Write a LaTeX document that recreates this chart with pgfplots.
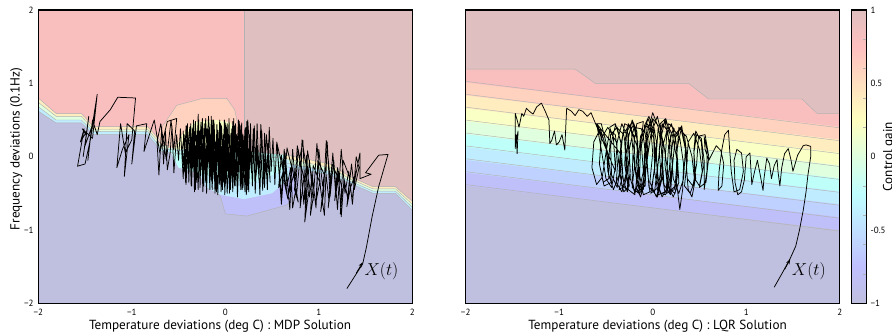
\documentclass[border=0pt]{standalone}
\usepackage{pgfplots}
\pgfplotsset{compat=1.18}
\usepackage{fontspec}
\setmainfont{PT Sans}
\usetikzlibrary{arrows.meta}
\definecolor{Cbot}{RGB}{191,191,223}
\definecolor{Ca}{RGB}{191,191,249}
\definecolor{Cb}{RGB}{191,210,255}
\definecolor{Cc}{RGB}{191,236,255}
\definecolor{Cd}{RGB}{191,255,249}
\definecolor{Ce}{RGB}{223,255,223}
\definecolor{Cf}{RGB}{249,255,197}
\definecolor{Cg}{RGB}{255,236,191}
\definecolor{Ch}{RGB}{255,210,191}
\definecolor{Ci}{RGB}{249,191,191}
\definecolor{Ctop}{RGB}{223,191,191}
\definecolor{Cline}{RGB}{178,178,178}
\newcommand{\tickfont}{\fontsize{9pt}{10pt}\selectfont}
\newcommand{\labfont}{\fontsize{13.2pt}{15pt}\selectfont}
\pgfplotsset{colormap={pjet}{rgb255(0cm)=(191,191,223) rgb255(1cm)=(191,191,255) rgb255(3cm)=(191,255,255) rgb255(5cm)=(255,255,191) rgb255(7cm)=(255,191,191) rgb255(8cm)=(223,191,191)}}
\pgfplotsset{
 panel/.style={scale only axis, width=374pt, height=293.3pt, anchor=south west,
  xmin=-2,xmax=2,ymin=-2,ymax=2,
  xtick={-2,-1,0,1,2}, xticklabels={−2,−1,0,1,2},
  major tick length=0pt, axis on top,
  axis line style={line width=1.1pt},
  axis background/.style={fill=Cbot},
  ticklabel style={font=\tickfont, inner sep=0pt},
  xticklabel style={yshift=-5.5pt},
  yticklabel style={xshift=-4.5pt},
  xlabel style={font=\labfont, inner sep=0pt, anchor=north, yshift=-16.5pt},
  ylabel style={font=\labfont, inner sep=0pt},
 },
 cl/.style={draw=Cline, line width=0.45pt},
 traj/.style={black, line width=0.75pt, line join=round},
}
\begin{document}
\begin{tikzpicture}
% ================= LEFT: MDP =================
\begin{axis}[panel, at={(38.3pt,31.7pt)},
  ytick={-2,-1,0,1,2}, yticklabels={−2,−1,0,1,2},
  xlabel={Temperature deviations (deg C) : MDP Solution},
  xlabel style={at={(axis description cs:0.486,0)}},
  ylabel={Frequency deviations (0.1Hz)},
  ylabel style={at={(axis description cs:-0.0588,0.526)}, anchor=center}]
\addplot[fill=Cg, draw=none] coordinates {(-2.1,0.80)(-2,0.80)(-1.81,0.59)(-1.54,0.59)(-1.41,0.41)(-0.83,0.41)(-0.68,0.20)(0.66,0.02)(1.12,-0.10)(1.33,-0.27)(1.58,-0.41)(1.82,-0.41)(2,-0.61)(2.1,-0.61)(2.1,-2.1)(-2.1,-2.1)};
\addplot[fill=Ce, draw=none] coordinates {(-2.1,0.74)(-2,0.74)(-1.81,0.55)(-1.54,0.55)(-1.41,0.37)(-0.83,0.37)(-0.68,0.16)(0.66,-0.03)(1.12,-0.15)(1.33,-0.30)(1.58,-0.44)(1.82,-0.44)(2,-0.65)(2.1,-0.65)(2.1,-2.1)(-2.1,-2.1)};
\addplot[fill=Cc, draw=none] coordinates {(-2.1,0.68)(-2,0.68)(-1.81,0.50)(-1.54,0.50)(-1.41,0.34)(-0.83,0.34)(-0.68,0.11)(0.66,-0.09)(1.12,-0.20)(1.33,-0.33)(1.58,-0.47)(1.82,-0.47)(2,-0.69)(2.1,-0.69)(2.1,-2.1)(-2.1,-2.1)};
\addplot[fill=Cbot, draw=none] coordinates {(-2.1,0.62)(-2,0.62)(-1.81,0.46)(-1.54,0.46)(-1.41,0.30)(-0.83,0.30)(-0.68,0.07)(0.66,-0.14)(1.12,-0.25)(1.33,-0.36)(1.58,-0.50)(1.82,-0.50)(2,-0.73)(2.1,-0.73)(2.1,-2.1)(-2.1,-2.1)};
\addplot[fill=Ctop, draw=none] coordinates {(-2.1,2.1)(2.1,2.1)(2.1,-0.61)(2,-0.61)(1.82,-0.41)(1.58,-0.41)(1.33,-0.27)(1.12,-0.10)(0.66,0.02)(-0.68,0.20)(-0.83,0.41)(-1.41,0.41)(-1.54,0.59)(-1.81,0.59)(-2,0.80)(-2.1,0.80)};
\addplot[fill=Ci, draw=none] coordinates {(-2.1,2.1)(0.2,2.1)(0.2,0.082)(-0.68,0.20)(-0.83,0.41)(-1.41,0.41)(-1.54,0.59)(-1.81,0.59)(-2,0.80)(-2.1,0.80)};
\addplot[fill=Ca, draw=none] coordinates {(-0.30,-0.10)(-0.15,-0.40)(-0.05,-0.55)(0.00,-0.78)(0.23,-0.81)(0.66,-0.66)(0.75,-0.50)(0.78,-0.30)(0.66,-0.10)(0.00,-0.10)};
\addplot[fill=Cc, draw=none] coordinates {(-0.30,-0.20)(-0.20,-0.42)(-0.05,-0.52)(0.20,-0.58)(0.50,-0.50)(0.68,-0.30)(0.68,-0.05)(-0.30,0.00)};
\addplot[fill=Cd, draw=none] coordinates {(-0.60,0.10)(-0.50,-0.15)(-0.20,-0.25)(0.30,-0.35)(0.60,-0.20)(0.66,0.02)(0.20,0.08)(-0.60,0.15)};
\addplot[fill=Ch, draw=none] coordinates {(-0.72,0.20)(-0.70,0.36)(-0.52,0.70)(-0.24,0.795)(0.015,0.795)(0.10,0.64)(0.13,0.46)(0.16,0.20)(0.10,0.05)(-0.60,0.12)};
\addplot[fill=Cf, draw=none] coordinates {(-0.55,0.10)(-0.45,0.32)(-0.33,0.47)(-0.10,0.50)(0.06,0.46)(0.12,0.30)(0.12,0.10)};
\addplot[cl] coordinates {(-2,0.80)(-1.81,0.59)(-1.54,0.59)(-1.41,0.41)(-0.83,0.41)(-0.68,0.20)(0.66,0.02)(1.12,-0.10)(1.33,-0.27)(1.58,-0.41)(1.82,-0.41)(2,-0.61)};
\addplot[cl] coordinates {(-2,0.74)(-1.81,0.55)(-1.54,0.55)(-1.41,0.37)(-0.83,0.37)(-0.68,0.16)(0.66,-0.03)(1.12,-0.15)(1.33,-0.30)(1.58,-0.44)(1.82,-0.44)(2,-0.65)};
\addplot[cl] coordinates {(-2,0.68)(-1.81,0.50)(-1.54,0.50)(-1.41,0.34)(-0.83,0.34)(-0.68,0.11)(0.66,-0.09)(1.12,-0.20)(1.33,-0.33)(1.58,-0.47)(1.82,-0.47)(2,-0.69)};
\addplot[cl] coordinates {(-2,0.62)(-1.81,0.46)(-1.54,0.46)(-1.41,0.30)(-0.83,0.30)(-0.68,0.07)(0.66,-0.14)(1.12,-0.25)(1.33,-0.36)(1.58,-0.50)(1.82,-0.50)(2,-0.73)};
\addplot[cl] coordinates {(0.2,2)(0.2,0.082)};
\addplot[cl] coordinates {(-0.70,0.36)(-0.52,0.70)(-0.24,0.795)(0.015,0.795)(0.10,0.64)(0.13,0.46)};
\addplot[cl] coordinates {(-0.15,-0.40)(-0.05,-0.55)(0.00,-0.78)(0.23,-0.81)(0.66,-0.66)(0.75,-0.50)};
\addplot[traj] coordinates {
(1.30,-1.80)(1.47,-1.46)(1.51,-1.23)(1.57,-0.82)(1.64,-0.41)(1.74,0.03)(1.64,0.02)(1.50,-0.22)(1.56,-0.24)(1.44,-0.30)
(1.44,0.05)(1.38,-0.35)(1.36,-0.55)(1.40,-0.20)(1.34,-0.42)(1.30,-0.68)(1.33,-0.28)(1.26,-0.05)(1.23,-0.78)(1.25,-0.45)(1.20,-0.15)(1.17,-0.60)(1.21,-0.30)(1.14,-0.10)(1.10,-0.70)(1.13,-0.40)(1.08,0.22)(1.05,-0.52)(1.02,-0.75)(1.06,-0.25)(0.99,-0.05)(0.97,-0.62)(1.01,-0.35)(0.94,-0.12)(0.91,-0.80)(0.95,-0.48)(0.88,0.08)(0.86,-0.55)(0.85,-0.89)(0.90,-0.40)(0.82,0.23)(0.80,-0.70)(0.84,-0.30)(0.77,0.15)(0.74,-0.45)(0.78,-0.62)(0.71,-0.10)(0.68,-0.50)(0.73,-0.25)(0.66,0.12)(0.63,-0.35)(0.67,-0.58)(0.60,0.02)(0.57,-0.42)(0.62,-0.20)(0.55,0.20)
(0.60,-0.65)(0.64,0.05)(0.69,-0.72)(0.72,0.10)(0.76,-0.55)(0.80,0.00)(0.83,0.22)(0.86,-0.70)(0.90,-0.05)(0.94,-0.60)(0.98,0.18)(1.02,-0.45)(1.06,-0.80)(1.09,0.20)(1.12,-0.55)(1.16,-0.05)(1.20,-0.72)(1.24,0.10)(1.28,-0.50)(1.32,-0.20)(1.36,-0.65)(1.40,0.00)(1.43,-0.15)
(1.38,-0.45)(1.35,-0.10)(1.31,-0.58)(1.27,-0.30)(1.24,-0.82)(1.21,-0.20)(1.18,-0.50)(1.15,0.05)(1.11,-0.62)(1.07,-0.15)(1.04,-0.40)(1.00,0.10)(0.97,-0.70)(0.93,-0.25)(0.90,-0.55)(0.87,0.02)(0.84,-0.65)(0.81,-0.18)(0.78,0.10)(0.75,-0.48)(0.72,-0.70)(0.70,-0.15)(0.66,-0.40)(0.63,0.10)(0.60,-0.55)(0.57,-0.10)(0.55,0.20)
(0.53,-0.38)(0.51,0.25)(0.49,-0.20)(0.47,0.40)(0.45,-0.45)(0.43,0.10)(0.41,-0.30)(0.39,0.35)(0.37,-0.52)(0.35,0.05)(0.33,-0.25)(0.31,0.42)(0.29,-0.40)(0.27,0.20)(0.25,-0.15)(0.23,0.48)(0.21,-0.48)(0.19,0.30)(0.17,-0.35)(0.15,0.15)(0.13,-0.55)(0.11,0.45)(0.09,-0.10)(0.07,0.38)(0.05,-0.42)(0.03,0.22)(0.01,-0.30)(-0.01,0.50)(-0.03,-0.45)(-0.05,0.12)(-0.07,-0.20)(-0.09,0.44)(-0.11,-0.50)(-0.13,0.28)(-0.15,-0.32)(-0.17,0.40)(-0.19,-0.12)(-0.21,0.52)(-0.23,-0.40)(-0.25,0.18)(-0.27,-0.28)(-0.29,0.58)(-0.31,-0.35)(-0.33,0.30)(-0.35,-0.15)(-0.37,0.45)(-0.39,-0.30)(-0.41,0.25)(-0.43,-0.22)(-0.45,0.35)
(-0.42,-0.38)(-0.40,0.10)(-0.38,0.40)(-0.36,-0.25)(-0.34,0.22)(-0.32,-0.45)(-0.30,0.35)(-0.28,-0.05)(-0.26,0.47)(-0.24,-0.35)(-0.22,0.08)(-0.20,-0.48)(-0.18,0.33)(-0.16,-0.20)(-0.14,0.50)(-0.12,-0.30)(-0.10,0.20)(-0.08,-0.52)(-0.06,0.40)(-0.04,-0.08)(-0.02,0.30)(0.00,-0.40)(0.02,0.45)(0.04,-0.22)(0.06,0.15)(0.08,-0.48)(0.10,0.36)(0.12,-0.15)(0.14,0.50)(0.16,-0.40)(0.18,0.05)(0.20,-0.28)(0.22,0.40)(0.24,-0.45)(0.26,0.30)(0.28,-0.10)(0.30,0.25)(0.32,-0.38)(0.34,0.45)(0.36,-0.20)(0.38,0.12)(0.40,-0.46)(0.42,0.32)(0.44,-0.25)(0.46,0.18)(0.48,-0.35)
(0.44,0.30)(0.42,-0.42)(0.40,0.05)(0.38,0.44)(0.36,-0.32)(0.34,0.15)(0.32,-0.50)(0.30,0.38)(0.28,-0.22)(0.26,0.10)(0.24,0.50)(0.22,-0.35)(0.20,0.22)(0.18,-0.45)(0.16,0.42)(0.14,-0.05)(0.12,0.30)(0.10,-0.40)(0.08,0.48)(0.06,-0.30)(0.04,0.05)(0.02,-0.50)(0.00,0.35)(-0.02,-0.18)(-0.04,0.42)(-0.06,-0.38)(-0.08,0.20)(-0.10,-0.10)(-0.12,0.46)(-0.14,-0.45)(-0.16,0.15)(-0.18,0.55)(-0.20,-0.25)(-0.22,0.30)(-0.24,-0.48)(-0.26,0.40)(-0.28,-0.12)(-0.30,0.20)(-0.32,-0.30)(-0.34,0.50)(-0.36,-0.40)(-0.38,0.15)(-0.40,-0.10)(-0.42,0.42)(-0.44,-0.20)(-0.46,0.10)
(-0.44,0.30)(-0.425,-0.35)(-0.41,0.42)(-0.395,-0.10)(-0.38,0.22)(-0.365,-0.40)(-0.35,0.38)(-0.335,-0.25)(-0.32,0.48)(-0.305,-0.05)(-0.29,-0.45)(-0.275,0.35)(-0.26,-0.18)(-0.245,0.52)(-0.23,-0.30)(-0.215,0.10)(-0.20,-0.50)(-0.185,0.42)(-0.17,-0.15)(-0.155,0.30)(-0.14,-0.42)(-0.125,0.50)(-0.11,-0.05)(-0.095,-0.48)(-0.08,0.36)(-0.065,-0.28)(-0.05,0.45)(-0.035,-0.40)(-0.02,0.15)(-0.005,-0.52)(0.01,0.40)(0.025,-0.20)(0.04,0.52)(0.055,-0.45)(0.07,0.25)(0.085,-0.35)(0.10,0.42)(0.115,-0.10)(0.13,-0.50)(0.145,0.35)(0.16,-0.28)(0.175,0.46)(0.19,-0.42)(0.205,0.18)(0.22,-0.20)(0.235,0.44)(0.25,-0.48)(0.265,0.30)(0.28,-0.15)
(0.27,0.45)(0.255,-0.30)(0.24,0.10)(0.225,-0.52)(0.21,0.38)(0.195,-0.05)(0.18,0.28)(0.165,-0.45)(0.15,0.48)(0.135,-0.22)(0.12,0.05)(0.105,-0.40)(0.09,0.52)(0.075,-0.15)(0.06,0.32)(0.045,-0.50)(0.03,0.28)(0.015,-0.08)(0.00,0.46)(-0.015,-0.35)(-0.03,0.20)(-0.045,-0.48)(-0.06,0.50)(-0.075,-0.12)(-0.09,0.30)(-0.105,-0.38)(-0.12,0.40)(-0.135,-0.22)(-0.15,0.55)(-0.165,-0.45)(-0.18,0.08)(-0.195,0.38)(-0.21,-0.35)(-0.225,0.45)(-0.24,-0.12)(-0.255,0.28)(-0.27,-0.42)(-0.285,0.50)(-0.30,-0.20)(-0.315,0.15)(-0.33,-0.48)(-0.345,0.40)(-0.36,-0.05)(-0.375,0.32)(-0.39,-0.35)(-0.405,0.45)(-0.42,-0.15)(-0.435,0.25)(-0.45,-0.30)
(-0.48,0.38)(-0.50,-0.05)(-0.52,0.30)(-0.55,-0.22)(-0.57,0.42)(-0.59,0.05)(-0.62,-0.18)(-0.64,0.35)(-0.66,-0.10)(-0.68,0.40)(-0.71,-0.25)(-0.73,0.20)(-0.69,0.45)(-0.63,-0.05)(-0.58,0.50)(-0.55,0.10)(-0.52,0.52)(-0.62,0.48)(-0.70,0.05)(-0.76,0.50)(-0.87,0.07)(-0.84,0.45)
(-0.95,0.42)(-1.00,-0.10)(-0.97,0.35)(-1.05,0.45)(-1.08,-0.27)(-1.03,0.30)(-1.10,0.10)(-1.16,-0.15)(-1.12,0.45)(-1.07,0.05)(-1.00,0.23)(-0.96,0.80)(-1.15,0.81)(-1.23,0.64)(-1.34,0.48)(-1.37,0.30)
(-1.42,0.50)(-1.47,-0.05)(-1.43,0.40)(-1.50,0.15)(-1.46,0.55)(-1.52,0.00)(-1.48,0.35)(-1.55,0.20)(-1.51,0.38)(-1.58,-0.13)(-1.50,-0.10)(-1.44,0.25)(-1.40,0.58)(-1.45,0.20)(-1.37,0.85)(-1.42,0.25)(-1.53,0.38)(-1.49,0.30)
};
\addplot[black, line width=0.75pt, -{Stealth[length=5pt,width=3.6pt]}] coordinates {(1.40,-1.59)(1.47,-1.44)};
\node at (axis cs:1.67,-1.56) {\fontsize{16pt}{18pt}\selectfont $X(t)$};
\end{axis}
% ================= RIGHT: LQR =================
\begin{axis}[panel, at={(465.7pt,31.7pt)}, ytick=\empty,
  xlabel={Temperature deviations (deg C) : LQR Solution},
  xlabel style={at={(axis description cs:0.513,0)}},
  colorbar, colormap name=pjet, point meta min=-1, point meta max=1,
  colorbar style={at={(1.0305,1)}, anchor=north west, scale only axis, width=15.3pt, height=293.3pt,
    ytick={-1,-0.5,0,0.5,1}, yticklabels={−1,-0.5,0,0.5,1},
    minor ytick={-0.8,-0.6,-0.4,-0.2,0.2,0.4,0.6,0.8},
    ytick pos=right, tick align=inside, major tick length=0pt, minor tick length=3pt,
    minor tick style={draw=Cline, line width=0.5pt},
    yticklabel style={font=\tickfont, inner sep=0pt, xshift=4pt},
    axis line style={line width=1.1pt}}]
\addplot[fill=Ca, draw=none] coordinates {(-2.1,-0.381)(2.1,-1.015)(2.1,2.1)(-2.1,2.1)};
\addplot[fill=Cb, draw=none] coordinates {(-2.1,-0.205)(2.1,-0.839)(2.1,2.1)(-2.1,2.1)};
\addplot[fill=Cc, draw=none] coordinates {(-2.1,-0.029)(2.1,-0.663)(2.1,2.1)(-2.1,2.1)};
\addplot[fill=Cd, draw=none] coordinates {(-2.1,0.147)(2.1,-0.487)(2.1,2.1)(-2.1,2.1)};
\addplot[fill=Ce, draw=none] coordinates {(-2.1,0.323)(2.1,-0.311)(2.1,2.1)(-2.1,2.1)};
\addplot[fill=Cf, draw=none] coordinates {(-2.1,0.499)(2.1,-0.135)(2.1,2.1)(-2.1,2.1)};
\addplot[fill=Cg, draw=none] coordinates {(-2.1,0.675)(2.1,0.041)(2.1,2.1)(-2.1,2.1)};
\addplot[fill=Ch, draw=none] coordinates {(-2.1,0.851)(2.1,0.217)(2.1,2.1)(-2.1,2.1)};
\addplot[fill=Ci, draw=none] coordinates {(-2.1,1.027)(2.1,0.393)(2.1,2.1)(-2.1,2.1)};
\addplot[fill=Ctop, draw=none] coordinates {(-2.1,1.195)(-0.83,1.195)(-0.615,1.0)(0.384,1.0)(0.598,0.786)(1.597,0.786)(1.757,0.591)(2.1,0.591)(2.1,2.1)(-2.1,2.1)};
\addplot[cl] coordinates {(-2,-0.381)(2,-1.015)};
\addplot[cl] coordinates {(-2,-0.205)(2,-0.839)};
\addplot[cl] coordinates {(-2,-0.029)(2,-0.663)};
\addplot[cl] coordinates {(-2,0.147)(2,-0.487)};
\addplot[cl] coordinates {(-2,0.323)(2,-0.311)};
\addplot[cl] coordinates {(-2,0.499)(2,-0.135)};
\addplot[cl] coordinates {(-2,0.675)(2,0.041)};
\addplot[cl] coordinates {(-2,0.851)(2,0.217)};
\addplot[cl] coordinates {(-2,1.027)(2,0.393)};
\addplot[cl] coordinates {(-2,1.195)(-0.83,1.195)(-0.615,1.0)(0.384,1.0)(0.598,0.786)(1.597,0.786)(1.757,0.591)(2,0.591)};
\addplot[traj] coordinates {
(1.30,-1.78)(1.38,-1.60)(1.47,-1.39)(1.53,-1.22)(1.57,-1.00)(1.61,-0.73)(1.64,-0.48)(1.66,-0.25)(1.69,0.00)(1.69,0.14)(1.64,0.16)(1.61,0.15)(1.55,0.02)(1.50,-0.20)(1.48,-0.05)(1.45,0.11)(1.41,0.04)(1.38,-0.15)(1.36,-0.40)(1.34,-0.20)(1.33,-0.04)(1.30,-0.12)(1.27,-0.30)(1.25,-0.10)(1.22,-0.02)(1.19,-0.30)(1.18,-0.46)(1.15,-0.25)(1.12,-0.05)(1.09,-0.20)(1.06,-0.38)(1.04,0.05)(1.00,0.00)(0.98,-0.32)(0.95,-0.48)(0.91,-0.52)(0.88,-0.35)(0.87,-0.05)(0.90,0.10)(0.95,0.05)(0.97,-0.20)(0.93,-0.45)(0.87,-0.48)(0.84,-0.20)(0.82,0.15)(0.81,0.36)(0.77,0.30)(0.74,0.10)(0.71,-0.20)(0.70,-0.46)(0.74,-0.40)(0.76,-0.10)(0.73,0.08)(0.68,0.15)(0.64,0.05)(0.60,-0.05)(0.56,0.10)(0.55,0.27)(0.58,0.10)(0.58,-0.20)(0.55,-0.45)
(0.55,-0.05)(0.52,0.25)(0.47,0.30)(0.44,0.05)(0.45,-0.30)(0.50,-0.40)(0.53,-0.20)(0.50,0.10)(0.44,0.32)(0.38,0.20)(0.36,-0.15)(0.38,-0.45)(0.42,-0.55)(0.45,-0.35)(0.42,0.00)(0.36,0.28)(0.30,0.35)(0.26,0.10)(0.25,-0.30)(0.29,-0.72)(0.32,-0.45)(0.33,-0.10)(0.29,0.25)(0.22,0.38)(0.17,0.15)(0.15,-0.25)(0.18,-0.48)(0.24,-0.40)(0.26,-0.05)(0.21,0.30)(0.13,0.50)(0.08,0.20)(0.05,-0.20)(0.08,-0.50)(0.14,-0.52)(0.16,-0.20)(0.12,0.15)(0.05,0.55)(-0.02,0.30)(-0.06,-0.05)(-0.04,-0.42)(0.02,-0.48)(0.05,-0.15)(0.01,0.25)(-0.06,0.45)(-0.13,0.28)(-0.16,-0.10)(-0.14,-0.45)(-0.08,-0.40)(-0.07,0.05)(-0.12,0.38)(-0.20,0.40)(-0.25,0.10)(-0.24,-0.30)(-0.19,-0.50)(-0.14,-0.30)(-0.17,0.15)(-0.25,0.43)(-0.32,0.30)(-0.35,-0.05)(-0.33,-0.40)(-0.27,-0.45)(-0.26,-0.10)(-0.31,0.30)(-0.40,0.42)(-0.45,0.15)(-0.44,-0.25)(-0.38,-0.42)(-0.35,-0.20)(-0.39,0.20)(-0.48,0.40)(-0.55,0.25)(-0.57,-0.10)(-0.53,-0.35)(-0.47,-0.30)(-0.48,0.05)(-0.56,0.38)(-0.63,0.20)(-0.65,-0.15)(-0.60,-0.38)(-0.54,-0.28)
(-0.50,0.05)(-0.46,0.35)(-0.40,0.30)(-0.37,0.00)(-0.39,-0.35)(-0.33,-0.48)(-0.28,-0.20)(-0.30,0.20)(-0.26,0.45)(-0.20,0.28)(-0.19,-0.08)(-0.22,-0.42)(-0.15,-0.50)(-0.10,-0.20)(-0.12,0.15)(-0.08,0.42)(-0.02,0.38)(0.00,0.05)(-0.03,-0.35)(0.04,-0.55)(0.09,-0.30)(0.07,0.10)(0.10,0.45)(0.16,0.35)(0.19,0.00)(0.16,-0.38)(0.22,-0.55)(0.28,-0.35)(0.26,0.05)(0.28,0.40)(0.34,0.30)(0.37,-0.05)(0.34,-0.40)(0.40,-0.50)(0.46,-0.30)(0.44,0.08)(0.46,0.35)(0.52,0.20)(0.54,-0.15)(0.50,-0.42)(0.57,-0.35)(0.60,0.00)
(0.56,0.30)(0.49,0.28)(0.47,-0.10)(0.43,-0.40)(0.37,-0.30)(0.35,0.10)(0.31,0.42)(0.24,0.25)(0.21,-0.15)(0.19,-0.52)(0.12,-0.38)(0.10,0.05)(0.06,0.40)(0.00,0.60)(-0.05,0.35)(-0.09,-0.05)(-0.10,-0.45)(-0.17,-0.35)(-0.21,0.05)(-0.23,0.40)(-0.30,0.45)(-0.34,0.15)(-0.36,-0.25)(-0.42,-0.45)(-0.48,-0.20)(-0.50,0.20)(-0.55,0.45)(-0.60,0.45)
(-0.55,0.10)(-0.50,-0.30)(-0.44,-0.42)(-0.40,-0.15)(-0.42,0.25)(-0.46,0.40)(-0.40,0.45)(-0.34,0.20)(-0.32,-0.25)(-0.36,-0.45)(-0.30,-0.40)(-0.25,-0.05)(-0.27,0.35)(-0.22,0.48)(-0.17,0.25)(-0.15,-0.20)(-0.19,-0.48)(-0.12,-0.45)(-0.07,-0.10)(-0.10,0.30)(-0.05,0.52)(0.01,0.30)(0.02,-0.15)(-0.02,-0.50)(0.06,-0.42)(0.10,-0.05)(0.08,0.35)(0.13,0.48)(0.18,0.20)(0.19,-0.25)(0.15,-0.50)(0.23,-0.45)(0.27,-0.10)(0.24,0.30)(0.30,0.40)(0.35,0.10)(0.33,-0.30)
(0.28,-0.50)(0.22,-0.30)(0.20,0.05)(0.23,0.38)(0.17,0.45)(0.11,0.15)(0.10,-0.25)(0.13,-0.48)(0.06,-0.52)(0.02,-0.20)(0.04,0.20)(0.00,0.50)(-0.06,0.40)(-0.09,0.00)(-0.08,-0.38)(-0.14,-0.50)(-0.18,-0.20)(-0.16,0.20)(-0.20,0.45)(-0.26,0.30)(-0.28,-0.05)(-0.25,-0.40)(-0.31,-0.48)(-0.36,-0.20)(-0.34,0.18)(-0.38,0.40)(-0.45,0.30)(-0.47,-0.05)(-0.44,-0.35)(-0.52,-0.40)(-0.57,-0.10)(-0.55,0.30)(-0.60,0.45)
(-0.35,0.05)(-0.31,-0.35)(-0.27,-0.48)(-0.24,-0.20)(-0.26,0.25)(-0.22,0.50)(-0.17,0.35)(-0.15,-0.05)(-0.18,-0.40)(-0.13,-0.55)(-0.08,-0.30)(-0.06,0.10)(-0.09,0.42)(-0.04,0.55)(0.01,0.35)(0.03,-0.05)(-0.01,-0.45)(0.05,-0.55)(0.10,-0.30)(0.11,0.10)(0.08,0.45)(0.14,0.52)(0.19,0.28)(0.21,-0.10)(0.18,-0.45)(0.24,-0.50)(0.27,-0.20)
(0.25,0.20)(0.20,0.45)(0.15,0.30)(0.13,-0.10)(0.16,-0.42)(0.10,-0.55)(0.05,-0.35)(0.04,0.05)(0.06,0.42)(0.00,0.52)(-0.05,0.25)(-0.06,-0.15)(-0.03,-0.48)(-0.10,-0.52)(-0.14,-0.25)(-0.13,0.15)(-0.10,0.48)(-0.17,0.45)(-0.21,0.10)(-0.22,-0.30)(-0.19,-0.52)(-0.26,-0.45)(-0.30,-0.10)(-0.28,0.30)(-0.33,0.45)(-0.38,0.20)(-0.40,-0.20)
(-0.66,0.60)(-0.70,0.55)(-0.75,0.62)(-0.79,0.64)(-0.83,0.56)(-0.87,0.62)(-0.92,0.66)(-0.93,0.40)(-0.94,0.09)(-0.97,0.30)(-1.00,0.20)(-1.03,0.16)(-1.05,0.35)(-1.08,0.22)(-1.10,0.18)(-1.11,0.50)(-1.15,0.62)(-1.19,0.73)(-1.24,0.68)(-1.28,0.58)(-1.32,0.62)(-1.35,0.66)(-1.38,0.55)(-1.40,0.59)(-1.43,0.40)(-1.45,0.50)(-1.47,0.59)(-1.47,0.11)(-1.46,0.30)(-1.45,0.04)(-1.44,0.35)(-1.46,0.20)
};
\addplot[black, line width=0.75pt, -{Stealth[length=5pt,width=3.6pt]}] coordinates {(1.41,-1.54)(1.47,-1.40)};
\node at (axis cs:1.67,-1.56) {\fontsize{16pt}{18pt}\selectfont $X(t)$};
\end{axis}
\node[rotate=90, font=\labfont, inner sep=0pt] at (889pt,178.3pt) {Control gain};
\pgfresetboundingbox
\useasboundingbox (0,0) rectangle (892pt,335pt);
\end{tikzpicture}
\end{document}
